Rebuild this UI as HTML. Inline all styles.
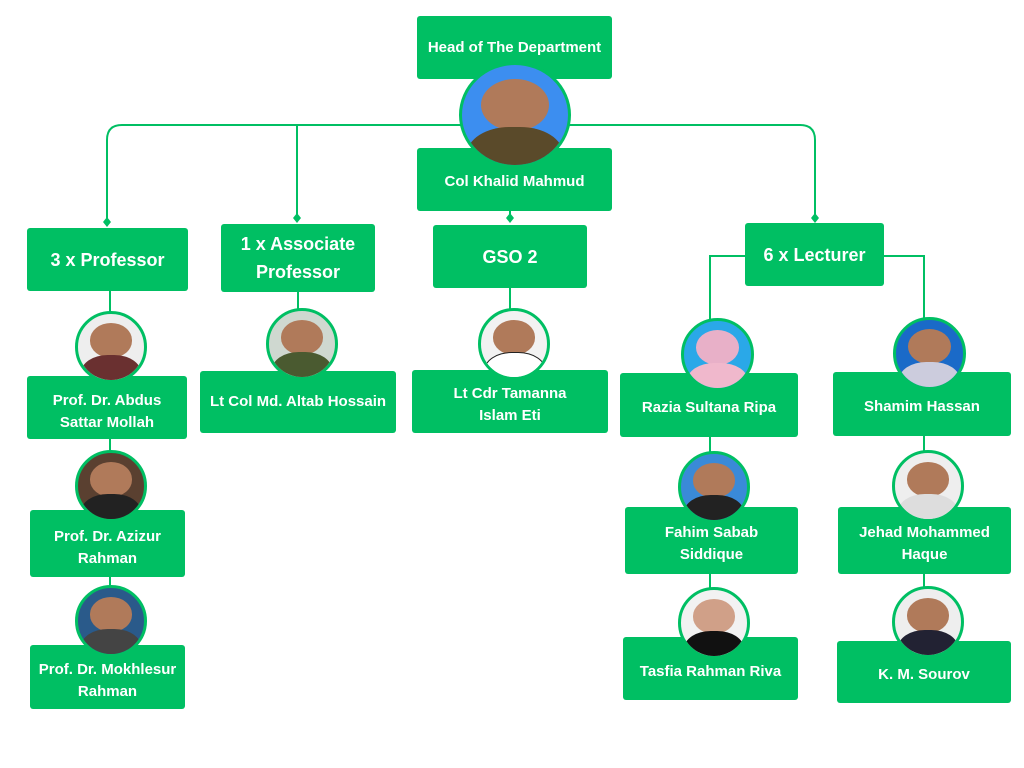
<!DOCTYPE html>
<html><head><meta charset="utf-8"><style>
body{margin:0;width:1024px;height:768px;background:#fff;position:relative;overflow:hidden;font-family:"Liberation Sans",sans-serif}
.b{position:absolute;background:#00bf63;color:#fff;font-weight:bold;display:flex;align-items:center;justify-content:center;text-align:center;border-radius:3px;font-size:15px;line-height:22px}
.h{font-size:18px;line-height:28px}
.p{position:absolute;border-radius:50%;border:3px solid #00bf63;box-sizing:border-box;overflow:hidden;background:#fff}
.p i{position:absolute;left:18%;top:14%;width:64%;height:52%;border-radius:50%;background:#b07a5a}
.p u{position:absolute;left:5%;top:62%;width:90%;height:60%;border-radius:45% 45% 0 0;background:#333}
svg{position:absolute;left:0;top:0}
</style></head><body>
<svg width="1024" height="768" fill="none" stroke="#00bf63" stroke-width="2">
<path d="M107 222 V140 Q107 125 122 125 H800 Q815 125 815 140 V218"/>
<path d="M297 125 V218"/>
<path d="M510 211 V218"/>
<path d="M745 256 H710 V330 M884 256 H924 V330"/>
<path d="M110 291 V320 M110 439 V460 M110 577 V595"/>
<path d="M298 292 V320 M510 288 V320"/>
<path d="M710 437 V460 M710 574 V600 M924 436 V460 M924 574 V600"/>
<g fill="#00bf63" stroke="none">
<path d="M107 217 l4 5 -4 5 -4 -5z"/><path d="M297 213 l4 5 -4 5 -4 -5z"/><path d="M510 213 l4 5 -4 5 -4 -5z"/><path d="M815 213 l4 5 -4 5 -4 -5z"/></g>
</svg>
<div class="b" style="left:417px;top:16px;width:195px;height:63px">Head of The Department</div>
<div class="b" style="left:417px;top:148px;width:195px;height:63px;padding-top:4px;box-sizing:border-box">Col Khalid Mahmud</div>
<div class="p" style="left:459px;top:62px;width:112px;height:106px;background:#3c8ef0"><i></i><u style="background:#5a4a2a"></u></div>
<div class="b h" style="left:27px;top:228px;width:161px;height:63px">3 x Professor</div>
<div class="b h" style="left:221px;top:224px;width:154px;height:68px">1 x Associate<br>Professor</div>
<div class="b h" style="left:433px;top:225px;width:154px;height:63px">GSO 2</div>
<div class="b h" style="left:745px;top:223px;width:139px;height:63px">6 x Lecturer</div>

<div class="b" style="left:27px;top:376px;width:160px;height:63px;padding-top:8px;box-sizing:border-box">Prof. Dr. Abdus<br>Sattar Mollah</div>
<div class="b" style="left:30px;top:510px;width:155px;height:67px;padding-top:8px;box-sizing:border-box">Prof. Dr. Azizur<br>Rahman</div>
<div class="b" style="left:30px;top:645px;width:155px;height:64px;padding-top:8px;box-sizing:border-box">Prof. Dr. Mokhlesur<br>Rahman</div>
<div class="b" style="left:200px;top:371px;width:196px;height:62px">Lt Col Md. Altab Hossain</div>
<div class="b" style="left:412px;top:370px;width:196px;height:63px;padding-top:6px;box-sizing:border-box">Lt Cdr Tamanna<br>Islam Eti</div>
<div class="b" style="left:620px;top:373px;width:178px;height:64px;padding-top:6px;box-sizing:border-box">Razia Sultana Ripa</div>
<div class="b" style="left:625px;top:507px;width:173px;height:67px;padding-top:6px;box-sizing:border-box">Fahim Sabab<br>Siddique</div>
<div class="b" style="left:623px;top:637px;width:175px;height:63px;padding-top:6px;box-sizing:border-box">Tasfia Rahman Riva</div>
<div class="b" style="left:833px;top:372px;width:178px;height:64px;padding-top:6px;box-sizing:border-box">Shamim Hassan</div>
<div class="b" style="left:838px;top:507px;width:173px;height:67px;padding-top:6px;box-sizing:border-box">Jehad Mohammed<br>Haque</div>
<div class="b" style="left:837px;top:641px;width:174px;height:62px;padding-top:6px;box-sizing:border-box">K. M. Sourov</div>

<div class="p" style="left:75px;top:311px;width:72px;height:72px;background:#eee"><i></i><u style="background:#6a3030"></u></div>
<div class="p" style="left:75px;top:450px;width:72px;height:72px;background:#5a4030"><i></i><u style="background:#222"></u></div>
<div class="p" style="left:75px;top:585px;width:72px;height:72px;background:#2a5a8a"><i></i><u style="background:#444"></u></div>
<div class="p" style="left:266px;top:308px;width:72px;height:72px;background:#cfd8d0"><i></i><u style="background:#4a5a30"></u></div>
<div class="p" style="left:478px;top:308px;width:72px;height:72px;background:#f2f2f2"><i></i><u style="background:#fff;border:1px solid #222"></u></div>
<div class="p" style="left:681px;top:318px;width:73px;height:73px;background:#2aa8e8"><i style="background:#e8b0c8"></i><u style="background:#f0b8cc"></u></div>
<div class="p" style="left:678px;top:451px;width:72px;height:72px;background:#3a8ad8"><i></i><u style="background:#222"></u></div>
<div class="p" style="left:678px;top:587px;width:72px;height:72px;background:#f2f2f2"><i style="background:#d0a088"></i><u style="background:#111"></u></div>
<div class="p" style="left:893px;top:317px;width:73px;height:73px;background:#1a6ac8"><i></i><u style="background:#ccd"></u></div>
<div class="p" style="left:892px;top:450px;width:72px;height:72px;background:#eee"><i></i><u style="background:#ddd"></u></div>
<div class="p" style="left:892px;top:586px;width:72px;height:72px;background:#eee"><i></i><u style="background:#223"></u></div>
</body></html>
